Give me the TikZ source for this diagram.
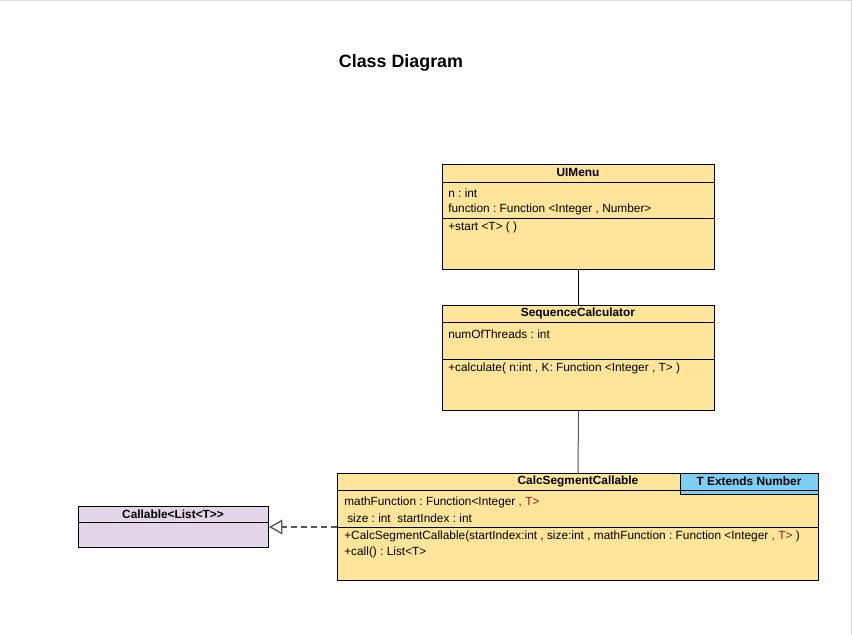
\documentclass[tikz,border=0pt]{standalone}
\usepackage{fontspec}
\setmainfont{Liberation Sans}
\usetikzlibrary{arrows.meta}
\frenchspacing

\definecolor{classyellow}{HTML}{FFE599}
\definecolor{ifacepurple}{HTML}{E1D5E7}
\definecolor{tparamblue}{HTML}{7DCEF4}
\definecolor{typered}{HTML}{8B1A1A}
\definecolor{linkgray}{HTML}{555555}
\definecolor{framegray}{HTML}{DDDDDD}

\begin{document}
\begin{tikzpicture}[x=0.75pt,y=-0.75pt,
  classbox/.style={draw=black, fill=classyellow, line width=0.75pt, rectangle, anchor=north west, inner sep=0pt},
  member/.style={anchor=west, inner sep=0pt, font=\fontsize{8.9}{10}\selectfont},
  classname/.style={inner sep=0pt, font=\bfseries\fontsize{8.9}{10}\selectfont}]

  \useasboundingbox (0,0) rectangle (853,635);
  \draw[framegray] (0,0.5) -- (851.5,0.5) -- (851.5,635);

  \node[font=\bfseries\fontsize{13.4}{15}\selectfont] (title) at (401,63) {Class Diagram};

  % UIMenu
  \node[classbox, minimum width=272*0.75pt, minimum height=105*0.75pt] (ui) at (442,164) {};
  \draw[line width=0.75pt] (442,182) -- (714,182) (442,218) -- (714,218);
  \node[classname] (uiname) at (578,172) {UIMenu};
  \node[member] (uin) at (448,193) {n : int};
  \node[member] (uifun) at (448,209) {function : Function <Integer , Number>};
  \node[member] (uistart) at (448,227) {+start <T> ( )};

  % SequenceCalculator
  \node[classbox, minimum width=272*0.75pt, minimum height=105*0.75pt] (seq) at (442,305) {};
  \draw[line width=0.75pt] (442,322) -- (714,322) (442,359) -- (714,359);
  \node[classname] (seqname) at (578,313) {SequenceCalculator};
  \node[member] (seqthreads) at (448,334) {numOfThreads : int};
  \node[member] (seqcalc) at (448,368) {+calculate( n:int , K: Function <Integer , T> )};

  % CalcSegmentCallable
  \node[classbox, minimum width=481*0.75pt, minimum height=107*0.75pt] (calc) at (337,473) {};
  \draw[line width=0.75pt] (337,490) -- (818,490) (337,527) -- (818,527);
  \node[classname] (calcname) at (578,481) {CalcSegmentCallable};
  \node[member] (calcmath) at (344,502) {mathFunction : Function<Integer \textcolor{typered}{, T>}};
  \node[member] (calcsize) at (347,518) {size : int~~startIndex : int};
  \node[member] (calcctor) at (344,536) {+CalcSegmentCallable(startIndex:int , size:int , mathFunction : Function <Integer \textcolor{typered}{, T>} )};
  \node[member] (calccall) at (344,552) {+call() : List<T>};

  % type parameter tab
  \node[classbox, fill=tparamblue, minimum width=138*0.75pt, minimum height=21*0.75pt] (tparam) at (680,473) {};
  \draw[line width=0.75pt] (680,490) -- (818,490);
  \node[classname] (tparamname) at (749,481) {T Extends Number};

  % Callable interface
  \node[classbox, fill=ifacepurple, minimum width=190*0.75pt, minimum height=41*0.75pt] (callable) at (78,506) {};
  \draw[line width=0.75pt] (78,522) -- (268,522);
  \node[classname] (callablename) at (173,514) {Callable<List<T>{}>};

  % links
  \draw[line width=0.75pt] (ui.south) -- (seq.north);
  \draw[linkgray, line width=0.75pt] (seq.south) -- (calc.north);
  \draw[linkgray, line width=1pt, dash pattern=on 4.5pt off 3pt, -{Triangle[open, length=10pt, width=11pt, fill=white]}] (calc.west) -- (callable.east);

\end{tikzpicture}
\end{document}
